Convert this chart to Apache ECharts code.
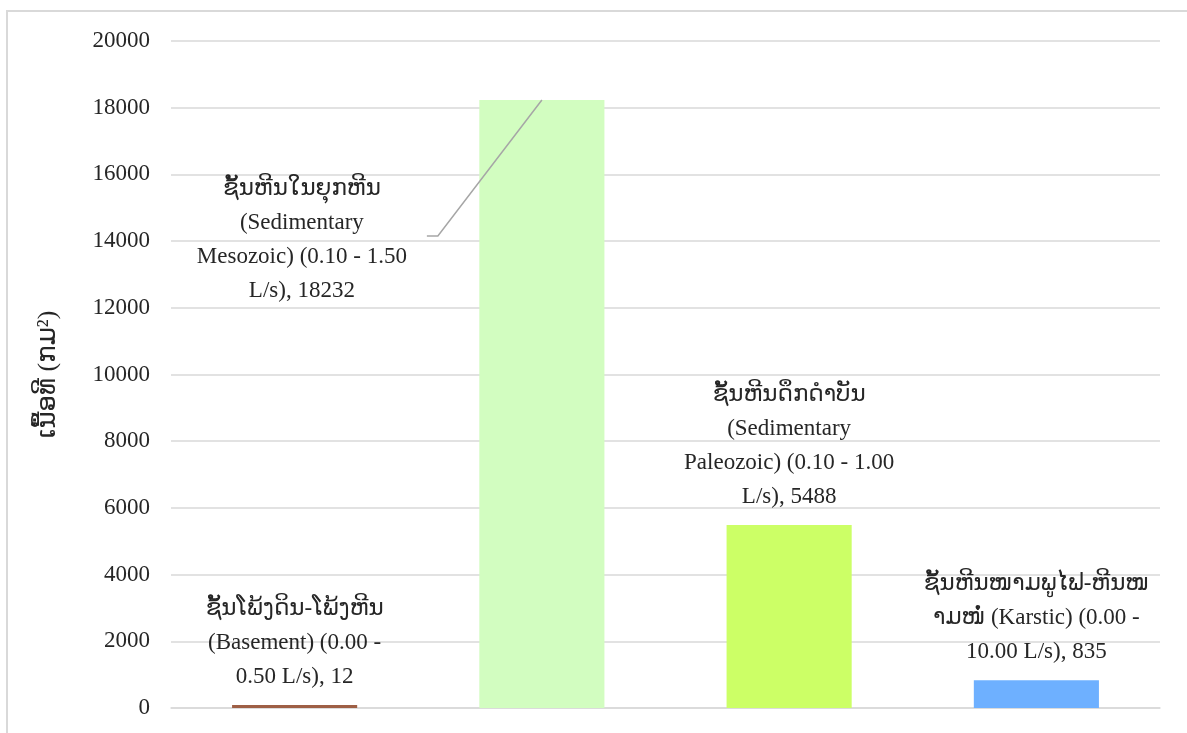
<!DOCTYPE html>
<html>
<head>
<meta charset="utf-8">
<script src="https://cdn.jsdelivr.net/npm/echarts@6/dist/echarts.min.js"></script>
<style>
  html, body { margin: 0; padding: 0; background: #ffffff; }
  #chart { width: 1187px; height: 733px; }
</style>
</head>
<body>
<div id="chart"></div>
<script>
// Aquifer types (text before the value) and their areas in km²
const categories = [
  'ຊັ້ນໂພ້ງດິນ-ໂພ້ງຫີນ\n(Basement) (0.00 -\n0.50 L/s)',
  'ຊັ້ນຫີນໃນຍຸກຫີນ\n(Sedimentary\nMesozoic) (0.10 - 1.50\nL/s)',
  'ຊັ້ນຫີນດຶກດຳບັນ\n(Sedimentary\nPaleozoic) (0.10 - 1.00\nL/s)',
  'ຊັ້ນຫີນໜາມພູໄຟ-ຫີນໜ\nາມໜໍ່ (Karstic) (0.00 -\n10.00 L/s)'
];
const areas = [12, 18232, 5488, 835];
const barColors = ['#9E5F45', '#D2FDC0', '#CCFF66', '#6EB0FF'];
const yTicks = { min: 0, max: 20000, interval: 2000 };
const yTitle = 'ເນື້ອທີ (ກມ²)';

const FONT = '"Liberation Serif", "DejaVu Serif", "DejaVu Sans", serif';
const TEXT = '#262626';
const GRID = '#d9d9d9';

// the Mesozoic label sits beside its tall bar, tied to it by a leader line
const sideLabelOffset = [-240, 208];

const chart = echarts.init(document.getElementById('chart'));

const data = areas.map((v, i) => {
  const item = { value: v, itemStyle: { color: barColors[i] } };
  if (i === 1) {
    item.label = { position: 'top', distance: 0, offset: sideLabelOffset };
  }
  return item;
});

chart.setOption({
  animation: false,
  backgroundColor: '#ffffff',
  grid: { left: 171, right: 27, top: 41, bottom: 25 },
  xAxis: {
    type: 'category',
    data: categories,
    axisLine: { show: true, lineStyle: { color: GRID, width: 1.5 } },
    axisTick: { show: false },
    axisLabel: { show: false }
  },
  yAxis: {
    type: 'value',
    min: yTicks.min,
    max: yTicks.max,
    interval: yTicks.interval,
    name: yTitle,
    nameLocation: 'middle',
    nameRotate: 90,
    nameGap: 110,
    nameTextStyle: { fontFamily: FONT, fontSize: 26, color: TEXT },
    axisLine: { show: false },
    axisTick: { show: false },
    axisLabel: {
      fontFamily: FONT, fontSize: 23, color: TEXT, margin: 21,
      formatter: v => String(v)
    },
    splitLine: { lineStyle: { color: GRID, width: 1.5 } }
  },
  series: [{
    type: 'bar',
    data: data,
    barWidth: '50.6%',
    barMinHeight: 3,
    label: {
      show: true,
      position: 'top',
      distance: 11,
      fontFamily: FONT,
      fontSize: 23,
      lineHeight: 34,
      color: TEXT,
      align: 'center',
      formatter: p => p.name + ', ' + p.value
    }
  }]
});

// frame around the chart and the leader line for the Mesozoic label
function drawExtras() {
  const top = chart.convertToPixel({ seriesIndex: 0 }, [1, areas[1]]);
  const elbow = [top[0] - 104, top[1] + 136];
  chart.setOption({
    graphic: [
      {
        type: 'rect',
        shape: { x: 7, y: 11, width: 1250, height: 800 },
        style: { fill: 'none', stroke: GRID, lineWidth: 2 },
        silent: true
      },
      {
        type: 'polyline',
        shape: { points: [top, elbow, [elbow[0] - 11, elbow[1]]] },
        style: { fill: 'none', stroke: '#a6a6a6', lineWidth: 1.5 },
        z: 10,
        silent: true
      }
    ]
  });
}
drawExtras();
</script>
</body>
</html>
